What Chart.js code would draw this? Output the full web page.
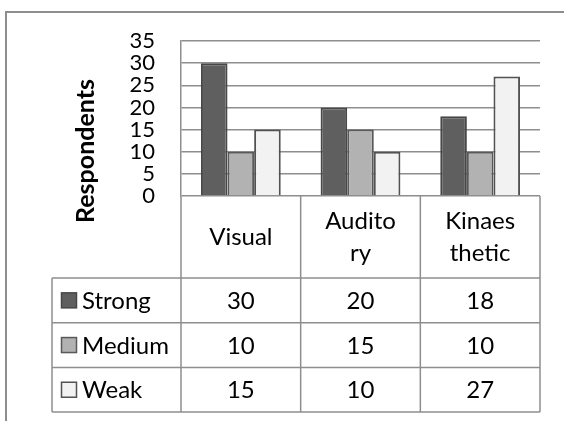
<!DOCTYPE html>
<html>
<head>
<meta charset="utf-8">
<script src="https://cdn.jsdelivr.net/npm/chart.js@4/dist/chart.umd.min.js"></script>
<style>
  html, body { margin: 0; padding: 0; background: #ffffff; }
  #wrap { width: 564px; height: 421px; position: relative; }
</style>
</head>
<body>
<div id="wrap"><canvas id="c" width="564" height="421"></canvas></div>
<script>
// Learning-style survey: respondents per style and strength
const categories = ['Visual', 'Auditory', 'Kinaesthetic'];
const headerLines = [['Visual'], ['Audito', 'ry'], ['Kinaes', 'thetic']];
const seriesNames = ['Strong', 'Medium', 'Weak'];
const strongValues = [30, 20, 18];
const mediumValues = [10, 15, 10];
const weakValues = [15, 10, 27];
const yTitle = 'Respondents';

const FONT = 'Lato, "Open Sans", sans-serif';
const fills = ['#5f5f5f', '#b2b2b2', '#f2f2f2'];
const edges = ['#474747', '#595959', '#525252'];
const lineGray = '#8e8e8e';

// Draws the frame, the rotated axis title and the data table under the plot
const tablePlugin = {
  id: 'dataTable',
  afterDraw(chart) {
    const ctx = chart.ctx;
    const x = chart.scales.x;
    const area = chart.chartArea;
    const n = chart.data.labels.length;
    const colW = (x.right - x.left) / n;
    const colEdges = [];
    for (let i = 0; i <= n; i++) colEdges.push(x.getPixelForValue(0) - colW / 2 + i * colW);
    const legendLeft = 52;
    const headerBottom = area.bottom + 82;
    const rowH = 44.7;
    const rows = chart.data.datasets.length;
    const tableBottom = headerBottom + rows * rowH;

    ctx.save();
    // outer frame
    ctx.strokeStyle = lineGray;
    ctx.lineWidth = 2;
    ctx.beginPath();
    ctx.moveTo(6, 421);
    ctx.lineTo(6, 12);
    ctx.lineTo(564, 12);
    ctx.stroke();

    // table grid
    ctx.lineWidth = 1.5;
    ctx.beginPath();
    colEdges.forEach(cx => { ctx.moveTo(cx, area.bottom); ctx.lineTo(cx, tableBottom); });
    ctx.moveTo(legendLeft, headerBottom); ctx.lineTo(legendLeft, tableBottom);
    for (let r = 0; r <= rows; r++) {
      const ry = headerBottom + r * rowH;
      ctx.moveTo(legendLeft, ry); ctx.lineTo(colEdges[n], ry);
    }
    ctx.stroke();

    // header labels
    ctx.fillStyle = '#000000';
    ctx.font = '24px ' + FONT;
    ctx.textAlign = 'center';
    ctx.textBaseline = 'middle';
    const headMid = (area.bottom + headerBottom) / 2;
    const lh = 32;
    headerLines.forEach((lines, i) => {
      const cx = x.getPixelForValue(i);
      const y0 = headMid - (lines.length - 1) * lh / 2;
      lines.forEach((t, k) => ctx.fillText(t, cx, y0 + k * lh));
    });

    // data rows with legend keys
    chart.data.datasets.forEach((ds, r) => {
      const cy = headerBottom + r * rowH + rowH / 2;
      ctx.fillStyle = ds.backgroundColor;
      ctx.strokeStyle = ds.borderColor;
      ctx.lineWidth = 1.5;
      ctx.fillRect(61.5, cy - 7.5, 15, 15);
      ctx.strokeRect(61.5, cy - 7.5, 15, 15);
      ctx.fillStyle = '#000000';
      ctx.textAlign = 'left';
      ctx.fillText(ds.label, 82, cy + 1);
      ctx.textAlign = 'center';
      ds.data.forEach((v, i) => ctx.fillText(String(v), x.getPixelForValue(i), cy + 1));
    });

    // rotated axis title
    ctx.font = 'bold 25px ' + FONT;
    ctx.translate(86, 151);
    ctx.rotate(-Math.PI / 2);
    ctx.textAlign = 'center';
    ctx.textBaseline = 'middle';
    ctx.fillText(yTitle, 0, 0);
    ctx.restore();
  }
};

const valueSets = [strongValues, mediumValues, weakValues];

new Chart(document.getElementById('c'), {
  type: 'bar',
  data: {
    labels: categories,
    datasets: seriesNames.map((name, i) => ({
      label: name,
      data: valueSets[i],
      backgroundColor: fills[i],
      borderColor: edges[i],
      borderWidth: 2,
      categoryPercentage: 0.667,
      barPercentage: 1.0
    }))
  },
  options: {
    responsive: false,
    animation: false,
    layout: { padding: { left: 0, right: 24, top: 41, bottom: 225 } },
    plugins: { legend: { display: false }, tooltip: { enabled: false }, title: { display: false } },
    scales: {
      x: { display: false },
      y: {
        min: 0, max: 35,
        afterFit(scale) { scale.width = 181; },
        ticks: { stepSize: 5, autoSkip: false, padding: 26, color: '#000000', font: { family: FONT, size: 22 } },
        grid: { color: lineGray, lineWidth: 1.5, drawTicks: false },
        border: { display: true, color: lineGray, width: 1.5 }
      }
    }
  },
  plugins: [tablePlugin]
});
</script>
</body>
</html>
